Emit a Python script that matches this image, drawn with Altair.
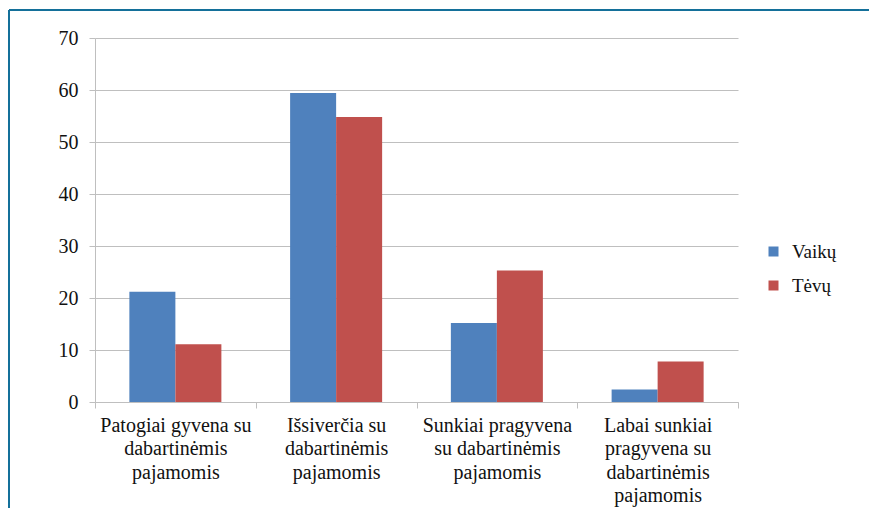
import altair as alt
import pandas as pd

categories = [
    "Patogiai gyvena su\ndabartinėmis\npajamomis",
    "Išsiverčia su\ndabartinėmis\npajamomis",
    "Sunkiai pragyvena\nsu dabartinėmis\npajamomis",
    "Labai sunkiai\npragyvena su\ndabartinėmis\npajamomis",
]
series = ["Vaikų", "Tėvų"]
vaiku = [21.2, 59.4, 15.2, 2.4]
tevu = [11.1, 54.8, 25.3, 7.8]
colors = ["#4F81BD", "#C0504D"]

rows = []
for c, v, t in zip(categories, vaiku, tevu):
    rows.append({"cat": c, "series": series[0], "value": v})
    rows.append({"cat": c, "series": series[1], "value": t})
df = pd.DataFrame(rows)

FONT = "Liberation Serif"
GRID = "#BFBFBF"

bars = alt.Chart(df).mark_bar().encode(
    x=alt.X(
        "cat:N",
        sort=categories,
        title=None,
        scale=alt.Scale(paddingInner=0, paddingOuter=0),
        axis=alt.Axis(
            labelAngle=0,
            labelExpr="split(datum.label, '\\n')",
            labelFontSize=20,
            labelLineHeight=23.5,
            labelColor="#111111",
            labelPadding=7,
            tickBand="extent",
            tickSize=6,
            tickColor=GRID,
            domainColor=GRID,
            grid=False,
            labelLimit=300,
        ),
    ),
    xOffset=alt.XOffset(
        "series:N",
        sort=series,
        scale=alt.Scale(paddingInner=0, paddingOuter=0.747),
    ),
    y=alt.Y(
        "value:Q",
        title=None,
        scale=alt.Scale(domain=[0, 70]),
        axis=alt.Axis(
            values=[0, 10, 20, 30, 40, 50, 60, 70],
            labelFontSize=20,
            labelColor="#111111",
            labelPadding=11,
            tickSize=6,
            tickColor=GRID,
            domainColor=GRID,
            gridColor=GRID,
        ),
    ),
    color=alt.Color(
        "series:N",
        sort=series,
        scale=alt.Scale(domain=series, range=colors),
        legend=alt.Legend(
            title=None,
            orient="none",
            legendX=669,
            legendY=204,
            symbolType="square",
            symbolSize=100,
            symbolStrokeWidth=0,
            labelFontSize=19,
            labelColor="#111111",
            labelOffset=9,
            rowPadding=14,
            padding=0,
        ),
    ),
)

frame_color = "#14709A"
top_rule = alt.Chart(df).mark_rule(color=frame_color, strokeWidth=2).encode(
    x=alt.value(-86), x2=alt.value(790), y=alt.value(-28)
)
left_rule = alt.Chart(df).mark_rule(color=frame_color, strokeWidth=2).encode(
    x=alt.value(-86), y=alt.value(-28), y2=alt.value(480)
)

chart = (
    alt.layer(bars, top_rule, left_rule)
    .properties(
        width=643,
        height=364,
        autosize=alt.AutoSizeParams(type="none"),
        padding={"left": 87, "top": 30, "right": 131, "bottom": 106},
    )
    .configure(font=FONT)
    .configure_axis(labelFont=FONT)
    .configure_legend(labelFont=FONT)
    .configure_view(stroke=None)
)

chart.save("out.html", embed_options={"renderer": "svg", "actions": False})
